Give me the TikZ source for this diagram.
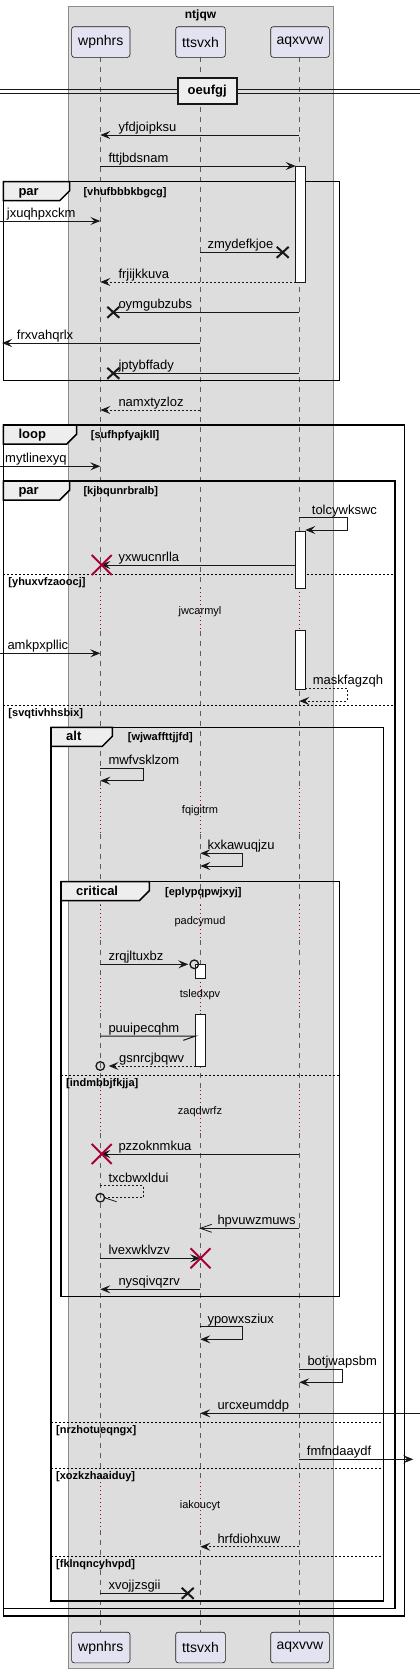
\documentclass[tikz,border=0pt]{standalone}
\usepackage{fontspec}
\setmainfont{Liberation Sans}
\usetikzlibrary{arrows.meta}

\definecolor{boxgray}{HTML}{DDDDDD}
\definecolor{boxline}{HTML}{8C8C8C}
\definecolor{partfill}{HTML}{E2E2F0}
\definecolor{ink}{HTML}{181818}
\definecolor{tabgray}{HTML}{EEEEEE}
\definecolor{plumred}{HTML}{A80036}

\tikzset{
  >={Stealth[length=10pt,width=8pt,inset=4pt]},
  part/.style={draw=ink,fill=partfill,rounded corners=2.5pt,line width=0.6pt,
    minimum height=30.6pt,inner sep=0pt,font=\fontsize{14}{16}\selectfont},
  lifeline/.style={draw=ink!70,line width=0.7pt,dash pattern=on 5pt off 5pt},
  delayline/.style={draw=plumred,line width=1pt,dash pattern=on 1pt off 3pt},
  act/.style={draw=ink,fill=white,line width=1pt},
  msg/.style={draw=ink,line width=1pt},
  reply/.style={msg,dash pattern=on 2pt off 2pt},
  lbl/.style={anchor=base west,inner sep=0pt,font=\fontsize{13}{15}\selectfont},
  delaytxt/.style={inner sep=0pt,font=\fontsize{11}{13}\selectfont},
  frameline/.style={draw=black,line width=1.5pt},
  elseline/.style={draw=black,line width=1pt,dash pattern=on 2pt off 2pt},
  tabtxt/.style={anchor=base west,inner sep=0pt,font=\bfseries\fontsize{13}{15}\selectfont},
  condtxt/.style={anchor=base west,inner sep=0pt,font=\bfseries\fontsize{11}{13}\selectfont},
  lostmark/.style={draw=ink,line width=2pt},
  killmark/.style={draw=plumred,line width=2pt},
  circ/.style={draw=ink,line width=1.3pt}
}

% left, top, right, bottom, tab right, kind, guard, guard x
\newcommand{\grpframe}[8]{%
  \draw[frameline] (#1,#2) rectangle (#3,#4);
  \draw[frameline,fill=tabgray] (#1,#2) -- (#5,#2) -- (#5,#2+9) -- (#5-10,#2+19) -- (#1,#2+19) -- cycle;
  \node[tabtxt] at (#1+15,#2+13.3) {#6};
  \node[condtxt] at (#8,#2+13.3) {[#7]};}
% left, right, y, guard
\newcommand{\grpelse}[4]{%
  \draw[elseline] (#1,#3) -- (#2,#3);
  \node[condtxt] at (#1+5,#3+11.5) {[#4]};}
\newcommand{\lostx}[2]{\draw[lostmark] (#1-6,#2-5.5) -- (#1+6,#2+5.5) (#1-6,#2+5.5) -- (#1+6,#2-5.5);}
\newcommand{\killx}[2]{\draw[killmark] (#1-10,#2-10) -- (#1+10,#2+10) (#1-10,#2+10) -- (#1+10,#2-10);}

\begin{document}
\begin{tikzpicture}[x=1pt,y=-1pt]
  \useasboundingbox (0,0) rectangle (420,1673);

  \draw[fill=boxgray,draw=boxline] (67.7,6) rectangle (333.3,1668);
  \node[font=\bfseries\fontsize{12}{14}\selectfont] (title) at (200.5,15.5) {ntjqw};

  \coordinate (wp) at (100.3,0);
  \coordinate (tt) at (200.3,0);
  \coordinate (aq) at (299.3,0);
  \coordinate (ttL) at (195.7,0);
  \coordinate (ttR) at (205.3,0);
  \coordinate (aqL) at (295.7,0);
  \coordinate (aqR) at (305.3,0);
  \coordinate (edgeL) at (0,0);
  \coordinate (edgeR) at (420,0);

  % lifelines, dotted where the delays are
  \foreach \p in {wp,tt,aq} {
    \foreach \a/\b in {57.3/588.3,630.7/788,834/905,940/978,1013/1090,1133/1482,1530/1631.7}
      \draw[lifeline] (\p |- 0,\a) -- (\p |- 0,\b);
    \foreach \a/\b in {588.3/630.7,788/834,905/940,978/1013,1090/1133,1482/1530}
      \draw[delayline] (\p |- 0,\a) -- (\p |- 0,\b);
  }

  \node[delaytxt] (d1) at (200,611.7) {jwcarmyl};
  \node[delaytxt] (d2) at (200,811) {fqigitrm};
  \node[delaytxt] (d3) at (200,921.7) {padcymud};
  \node[delaytxt] (d4) at (200,995) {tsledxpv};
  \node[delaytxt] (d5) at (200,1111.7) {zaqdwrfz};
  \node[delaytxt] (d6) at (200,1506) {iakoucyt};

  % divider
  \draw[msg] (edgeL |- 0,89.5) -- (edgeR |- 0,89.5);
  \draw[msg] (edgeL |- 0,93.5) -- (edgeR |- 0,93.5);
  \node[draw=ink,fill=tabgray,line width=2pt,minimum width=59pt,minimum height=26.3pt,
    inner sep=0pt,font=\bfseries\fontsize{13}{15}\selectfont] (sep) at (207.2,90.8) {oeufgj};

  % groups
  \grpframe{3.3}{181.7}{339.7}{380.7}{69.7}{par}{vhufbbbkbgcg}{83.3}
  \grpframe{3.3}{425}{404.3}{1616}{76.7}{loop}{sufhpfyajkll}{90.7}
  \grpframe{3.3}{481}{395}{1608.3}{69.7}{par}{kjbqunrbralb}{83.3}
  \grpelse{3.3}{395}{574.3}{yhuxvfzaoocj}
  \grpelse{3.3}{395}{705}{svqtivhhsbix}
  \grpframe{51}{727.3}{383.3}{1601}{112.3}{alt}{wjwaffttjjfd}{127.7}
  \grpelse{51}{383.3}{1422.3}{nrzhotueqngx}
  \grpelse{51}{383.3}{1468.3}{xozkzhaaiduy}
  \grpelse{51}{383.3}{1556}{fklnqncyhvpd}
  \grpframe{61}{881.7}{339.7}{1296.7}{149.3}{critical}{eplypqpwjxyj}{165}
  \grpelse{61}{339.7}{1075.3}{indmbbjfkjja}

  % activations
  \draw[act] (aqL |- 0,166) rectangle (aqR |- 0,282);
  \draw[act] (aqL |- 0,531) rectangle (aqR |- 0,588.3);
  \draw[act] (aqL |- 0,630.7) rectangle (aqR |- 0,689);
  \draw[act] (ttL |- 0,964.3) rectangle (ttR |- 0,978);
  \draw[act] (ttL |- 0,1014) rectangle (ttR |- 0,1066);

  % messages
  \draw[msg,->] (aq |- 0,135) -- (wp |- 0,135);
  \node[lbl] (m1) at (118.3,131.5) {yfdjoipksu};
  \draw[msg,->] (wp |- 0,166) -- (aqL |- 0,166);
  \node[lbl] (m2) at (108.3,162.5) {fttjbdsnam};
  \draw[msg,->] (edgeL |- 0,221) -- (wp |- 0,221);
  \node[lbl] (m3) at (6.7,217.5) {jxuqhpxckm};
  \draw[msg] (tt |- 0,252.3) -- (282.7,252.3);
  \lostx{282.7}{252.3}
  \node[lbl] (m4) at (207.3,248.8) {zmydefkjoe};
  \draw[reply,->] (aqL |- 0,282) -- (wp |- 0,282);
  \node[lbl] (m5) at (118.3,278.5) {frjijkkuva};
  \draw[msg] (aq |- 0,312.3) -- (113.3,312.3);
  \lostx{113.3}{312.3}
  \node[lbl] (m6) at (118.3,308.8) {oymgubzubs};
  \draw[msg,->] (tt |- 0,343) -- (2,343);
  \node[lbl] (m7) at (16.7,339.5) {frxvahqrlx};
  \draw[msg] (aq |- 0,373.3) -- (113.3,373.3);
  \lostx{113.3}{373.3}
  \node[lbl] (m8) at (118.3,369.8) {jptybffady};
  \draw[reply,->] (tt |- 0,410) -- (wp |- 0,410);
  \node[lbl] (m9) at (118.3,406.5) {namxtyzloz};

  \draw[msg,->] (edgeL |- 0,466.3) -- (wp |- 0,466.3);
  \node[lbl] (m10) at (5,462.8) {mytlinexyq};
  \draw[msg,->] (aq |- 0,517.7) -| (347.3,530) -- (aqR |- 0,530);
  \node[lbl] (m11) at (311.7,514.2) {tolcywkswc};
  \draw[msg,->] (aqL |- 0,565) -- (wp |- 0,565);
  \killx{101.7}{565}
  \node[lbl] (m12) at (118.3,561.5) {yxwucnrlla};
  \draw[msg,->] (edgeL |- 0,653.3) -- (wp |- 0,653.3);
  \node[lbl] (m13) at (7.3,649.8) {amkpxpllic};
  \draw[reply,->] (aqR |- 0,688.3) -| (347.3,701) -- (aq |- 0,701);
  \node[lbl] (m14) at (312.7,684.8) {maskfagzqh};

  \draw[msg,->] (wp |- 0,768.3) -| (143.3,780.7) -- (wp |- 0,780.7);
  \node[lbl] (m15) at (108.3,764.8) {mwfvsklzom};
  \draw[msg,<->] (tt |- 0,853.3) -| (242.7,866) -- (tt |- 0,866);
  \node[lbl] (m16) at (207.3,849.8) {kxkawuqjzu};
  \draw[msg,->] (wp |- 0,964.3) -- (188.3,964.3);
  \draw[circ] (194.3,964.3) circle[radius=4.3];
  \node[lbl] (m17) at (108.3,960.8) {zrqjltuxbz};
  \draw[msg] (wp |- 0,1036) -- (ttL |- 0,1036) -- ++(-12.4,4.3);
  \node[lbl] (m18) at (108.3,1032.5) {puuipecqhm};
  \draw[reply,->] (ttL |- 0,1066) -- (108.7,1066);
  \draw[circ] (wp |- 0,1066) circle[radius=4.3];
  \node[lbl] (m19) at (119,1062.5) {gsnrcjbqwv};
  \draw[msg,->] (aq |- 0,1154) -- (wp |- 0,1154);
  \killx{101.7}{1154}
  \node[lbl] (m20) at (118.3,1150.5) {pzzoknmkua};
  \draw[reply] (wp |- 0,1185.7) -| (143.3,1197.7) -- (104.6,1197.7);
  \draw[circ] (wp |- 0,1197.7) circle[radius=4.3];
  \draw[msg,line width=0.8pt] (104.6,1197.7) -- ++(12,4);
  \node[lbl] (m21) at (108.3,1182.2) {txcbwxldui};
  \draw[msg] (aq |- 0,1228.3) -- (tt |- 0,1228.3);
  \draw[msg,line width=0.8pt] (211.7,1224.3) -- (tt |- 0,1228.3) -- (211.7,1232.3);
  \node[lbl] (m22) at (217.3,1224.8) {hpvuwzmuws};
  \draw[msg,->] (wp |- 0,1258.3) -- (tt |- 0,1258.3);
  \killx{200.5}{1258.3}
  \node[lbl] (m23) at (108.3,1254.8) {lvexwklvzv};
  \draw[msg,->] (tt |- 0,1289.3) -- (wp |- 0,1289.3);
  \node[lbl] (m24) at (118.3,1285.8) {nysqivqzrv};

  \draw[msg,->] (tt |- 0,1326.7) -| (242.7,1339.3) -- (tt |- 0,1339.3);
  \node[lbl] (m25) at (207.3,1323.2) {ypowxsziux};
  \draw[msg,->] (aq |- 0,1369.3) -| (342.7,1382.3) -- (aq |- 0,1382.3);
  \node[lbl] (m26) at (307.3,1365.8) {botjwapsbm};
  \draw[msg,->] (edgeR |- 0,1413.3) -- (tt |- 0,1413.3);
  \node[lbl] (m27) at (217.3,1409.8) {urcxeumddp};
  \draw[msg,->] (aq |- 0,1459.3) -- (413.3,1459.3);
  \node[lbl] (m28) at (306.7,1455.8) {fmfndaaydf};
  \draw[reply,->] (aq |- 0,1546.7) -- (tt |- 0,1546.7);
  \node[lbl] (m29) at (217.3,1543.2) {hrfdiohxuw};
  \draw[msg] (wp |- 0,1593.3) -- (187.7,1593.3);
  \lostx{187.7}{1593.3}
  \node[lbl] (m30) at (108.3,1589.8) {xvojjzsgii};

  % participants
  \node[part,minimum width=58.3pt] (wpT) at (100.8,42) {wpnhrs};
  \node[part,minimum width=49.6pt] (ttT) at (200.5,42) {ttsvxh};
  \node[part,minimum width=58.6pt] (aqT) at (300,42) {aqxvvw};
  \node[part,minimum width=58.3pt] (wpB) at (100.8,1647.5) {wpnhrs};
  \node[part,minimum width=49.6pt] (ttB) at (200.5,1647.5) {ttsvxh};
  \node[part,minimum width=58.6pt] (aqB) at (300,1647.5) {aqxvvw};
\end{tikzpicture}
\end{document}
